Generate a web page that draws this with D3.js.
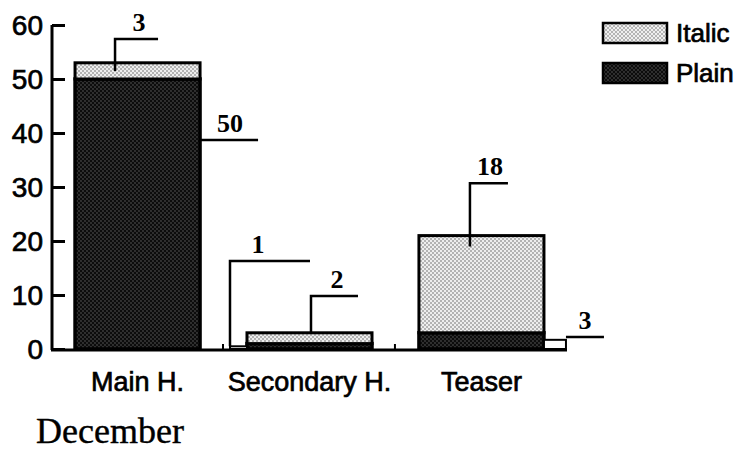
<!DOCTYPE html>
<html>
<head>
<meta charset="utf-8">
<script src="https://cdn.jsdelivr.net/npm/d3@7"></script>
<style>
  body { margin: 0; background: #fff; }
  svg { display: block; }
  .tick-label, .cat-label, .legend-label { font-family: "Liberation Sans", Arial, sans-serif; fill: #000; stroke: #000; stroke-width: 0.7px; }
  .callout { font-family: "Liberation Serif", "Times New Roman", serif; font-weight: bold; fill: #000; }
</style>
</head>
<body>
<div id="chart"></div>
<script>
// data
const categories = ["Main H.", "Secondary H.", "Teaser"];
const plain = [50, 1, 3];
const italic = [3, 2, 18];
const stubs = [0, 0.5, 1.7]; // the little empty boxes beside two of the bars
const yTicks = [0, 10, 20, 30, 40, 50, 60];
const seriesNames = ["Italic", "Plain"];
const caption = "December";

const width = 744, height = 450;

const svg = d3.select("#chart").append("svg")
  .attr("width", width)
  .attr("height", height);

// stipple patterns
const defs = svg.append("defs");
function dots(id, bg, dot, r) {
  const p = defs.append("pattern")
    .attr("id", id)
    .attr("patternUnits", "userSpaceOnUse")
    .attr("width", 4).attr("height", 4);
  p.append("rect").attr("width", 4).attr("height", 4).attr("fill", bg);
  p.append("circle").attr("cx", 1).attr("cy", 1).attr("r", r).attr("fill", dot);
  p.append("circle").attr("cx", 3).attr("cy", 3).attr("r", r).attr("fill", dot);
}
dots("italicFill", "#eeeeee", "#5a5a5a", 0.75);
dots("plainFill", "#0c0c0c", "#6e6e6e", 0.65);

const x = d3.scaleBand()
  .domain(categories)
  .range([52, 567])
  .paddingInner(0.273)
  .paddingOuter(0.134);

const y = d3.scaleLinear().domain([0, 60]).range([349, 25]);

// y axis, ticks point inward
const yAxis = svg.append("g")
  .attr("transform", "translate(52,0)")
  .call(d3.axisRight(y).tickValues(yTicks).tickSize(13).tickFormat(""));
yAxis.select(".domain").attr("d", "M0," + y(60) + "V" + (y(0) + 1))
  .attr("stroke", "#000").attr("stroke-width", 3);
yAxis.selectAll(".tick line").attr("stroke", "#000").attr("stroke-width", 3);

svg.append("g").selectAll("text")
  .data(yTicks)
  .join("text")
  .attr("class", "tick-label")
  .attr("x", 43)
  .attr("y", d => y(d) + 10)
  .attr("text-anchor", "end")
  .attr("font-size", 28)
  .text(d => d);

// bars
const rows = categories.map((c, i) => ({ cat: c, plain: plain[i], italic: italic[i], stub: stubs[i] }));

const bars = svg.append("g");
bars.selectAll("rect.plain")
  .data(rows)
  .join("rect")
  .attr("class", "plain")
  .attr("x", d => x(d.cat))
  .attr("width", x.bandwidth())
  .attr("y", d => y(d.plain))
  .attr("height", d => y(0) - y(d.plain))
  .attr("fill", "url(#plainFill)")
  .attr("stroke", "#000")
  .attr("stroke-width", 3.5);

bars.selectAll("rect.italic")
  .data(rows)
  .join("rect")
  .attr("class", "italic")
  .attr("x", d => x(d.cat))
  .attr("width", x.bandwidth())
  .attr("y", d => y(d.plain + d.italic))
  .attr("height", d => y(d.plain) - y(d.plain + d.italic))
  .attr("fill", "url(#italicFill)")
  .attr("stroke", "#000")
  .attr("stroke-width", 3);

// stub boxes: left of Secondary H., right of Teaser
const stubRows = rows.filter(d => d.stub > 0);
bars.selectAll("rect.stub")
  .data(stubRows)
  .join("rect")
  .attr("class", "stub")
  .attr("x", d => d.cat === "Teaser" ? x(d.cat) + x.bandwidth() : x(d.cat) - 17)
  .attr("width", d => d.cat === "Teaser" ? 22 : 17)
  .attr("y", d => y(d.stub))
  .attr("height", d => y(0) - y(d.stub))
  .attr("fill", "#fff")
  .attr("stroke", "#000")
  .attr("stroke-width", 2);

// x axis baseline
svg.append("line")
  .attr("x1", 51).attr("x2", 567)
  .attr("y1", y(0) + 1).attr("y2", y(0) + 1)
  .attr("stroke", "#000").attr("stroke-width", 3);

// tiny separators on the base line
svg.selectAll("line.sep")
  .data(categories.slice(1))
  .join("line")
  .attr("class", "sep")
  .attr("x1", d => x(d) - 24).attr("x2", d => x(d) - 24)
  .attr("y1", y(0) + 1).attr("y2", y(0) - 5)
  .attr("stroke", "#000").attr("stroke-width", 2);

svg.selectAll("text.cat-label")
  .data(categories)
  .join("text")
  .attr("class", "cat-label")
  .attr("x", d => x(d) + x.bandwidth() / 2)
  .attr("y", 391)
  .attr("text-anchor", "middle")
  .attr("font-size", 27)
  .text(d => d);

// callouts with leader lines
const bw = x.bandwidth();
const callouts = [
  { text: italic[0], x0: x("Main H.") + 40, y0: y(plain[0] + italic[0] / 2), y1: y(57.4), len: 43, tx: 24 },
  { text: plain[0], x0: x("Main H.") + bw, y0: null, y1: y(38.7), len: 58, tx: 30 },
  { text: plain[1], x0: x("Secondary H.") - 17, y0: y(0.5), y1: y(16.3), len: 80, tx: 28 },
  { text: italic[1], x0: x("Secondary H.") + 64, y0: y(plain[1] + italic[1]), y1: y(9.8), len: 47, tx: 26 },
  { text: italic[2], x0: x("Teaser") + 51, y0: y(19), y1: y(30.7), len: 38, tx: 20 },
  { text: plain[2], x0: x("Teaser") + bw + 22, y0: null, y1: y(2.2), len: 38, tx: 19 }
];

const co = svg.append("g");
callouts.forEach(c => {
  let path = "M" + c.x0 + "," + c.y1 + "H" + (c.x0 + c.len);
  if (c.y0 !== null) path = "M" + c.x0 + "," + c.y0 + "V" + c.y1 + "H" + (c.x0 + c.len);
  co.append("path")
    .attr("d", path)
    .attr("fill", "none")
    .attr("stroke", "#000")
    .attr("stroke-width", 2.5);
  co.append("text")
    .attr("class", "callout")
    .attr("x", c.x0 + c.tx)
    .attr("y", c.y1 - 8)
    .attr("text-anchor", "middle")
    .attr("font-size", 26)
    .text(c.text);
});

// legend
const legend = svg.append("g").attr("transform", "translate(603,23)");
const lg = legend.selectAll("g")
  .data(seriesNames)
  .join("g")
  .attr("transform", (d, i) => "translate(0," + i * 40 + ")");
lg.append("rect")
  .attr("width", 64).attr("height", 20)
  .attr("fill", d => d === "Italic" ? "url(#italicFill)" : "url(#plainFill)")
  .attr("stroke", "#000").attr("stroke-width", 2.5);
lg.append("text")
  .attr("class", "legend-label")
  .attr("x", 73).attr("y", 19)
  .attr("font-size", 26)
  .text(d => d);

// caption
svg.append("text")
  .attr("x", 36).attr("y", 443)
  .attr("font-family", "'Liberation Serif', 'Times New Roman', serif")
  .attr("font-size", 36)
  .attr("stroke", "#000")
  .attr("stroke-width", 0.4)
  .text(caption);
</script>
</body>
</html>
